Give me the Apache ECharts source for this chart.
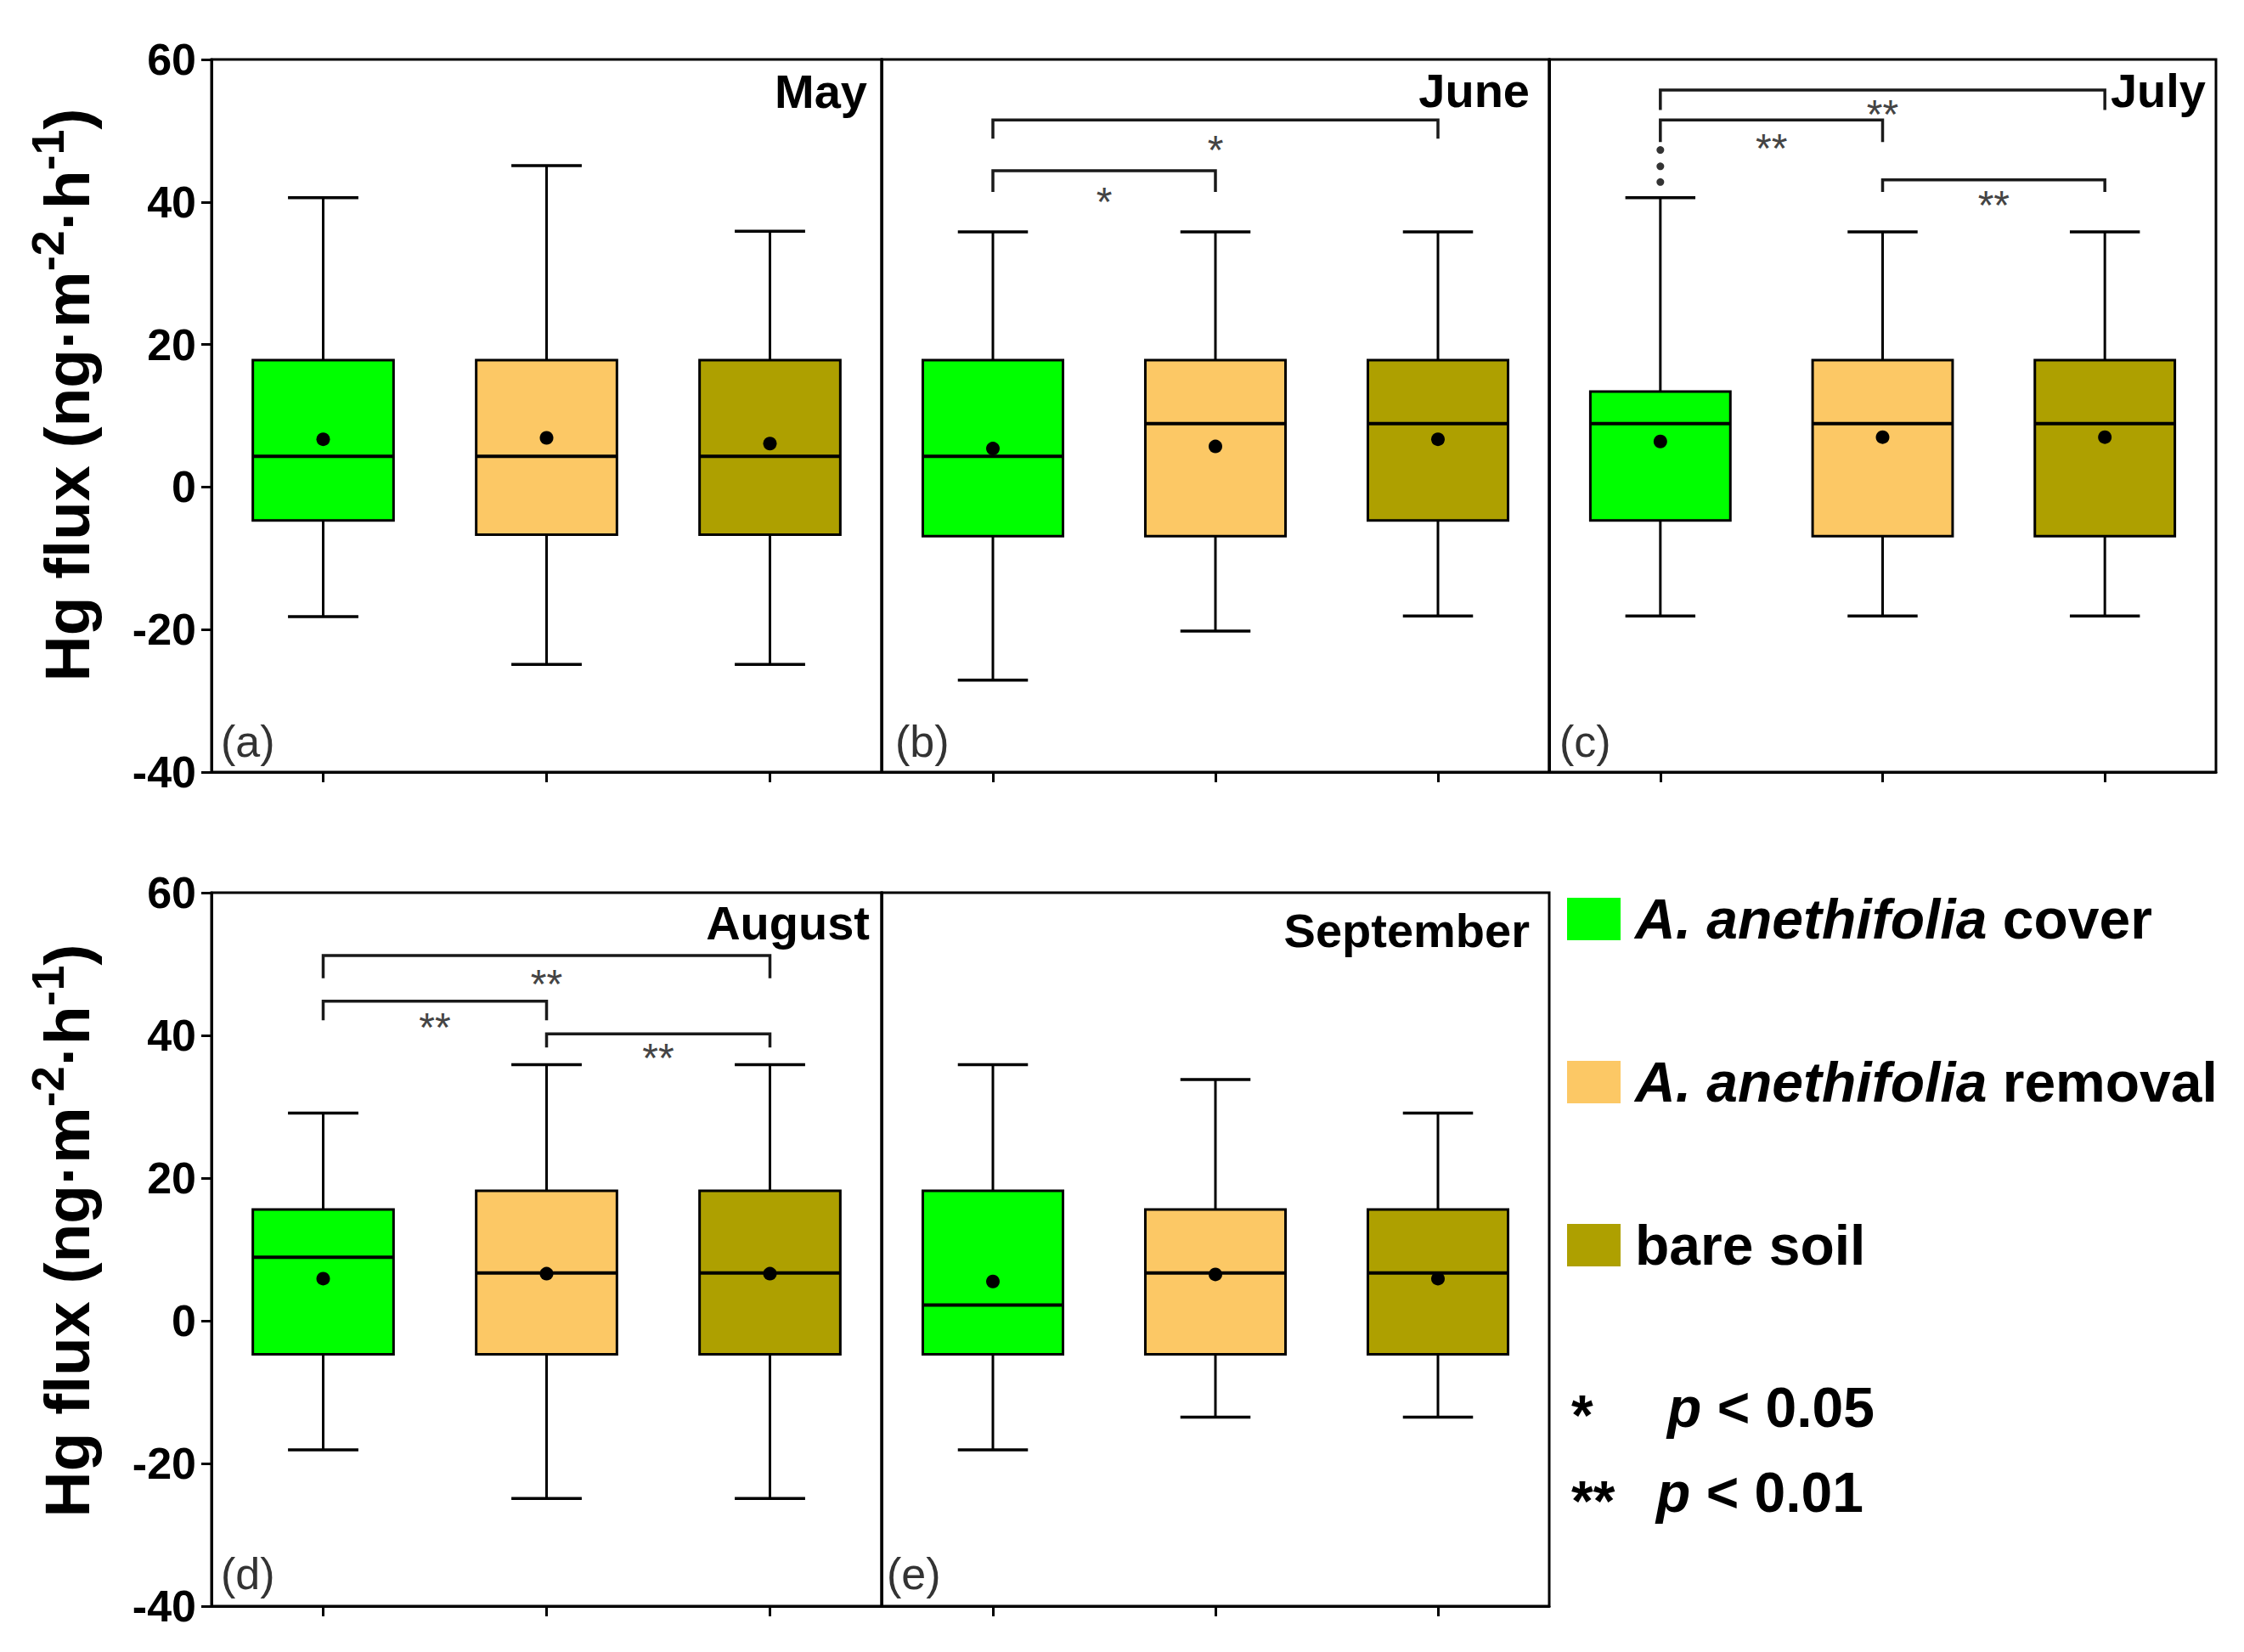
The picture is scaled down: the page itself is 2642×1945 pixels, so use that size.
<!DOCTYPE html>
<html><head><meta charset="utf-8">
<script src="https://cdn.jsdelivr.net/npm/echarts@6/dist/echarts.min.js"></script>
<style>html,body{margin:0;padding:0;background:#fff}#c{width:2642px;height:1945px}</style>
</head><body><div id="c"></div>
<script>
// ---------- data ----------
const groups = ['A. anethifolia cover', 'A. anethifolia removal', 'bare soil'];
const groupColors = ['#00FF00', '#FCC865', '#AEA000'];
const months = ['May', 'June', 'July', 'August', 'September'];
const panelLetters = ['(a)', '(b)', '(c)', '(d)', '(e)'];
const yMin = -40, yMax = 60, yInterval = 20;

// per group: [lower whisker, Q1, median, Q3, upper whisker]
const mayStats = [[-18.2, -4.7, 4.3, 17.8, 40.6], [-24.9, -6.7, 4.3, 17.8, 45.1], [-24.9, -6.7, 4.3, 17.8, 35.9]];
const mayMeans = [6.7, 6.9, 6.1];
const juneStats = [[-27.1, -6.9, 4.3, 17.8, 35.8], [-20.2, -6.9, 8.9, 17.8, 35.8], [-18.1, -4.7, 8.9, 17.8, 35.8]];
const juneMeans = [5.4, 5.7, 6.7];
const julyStats = [[-18.1, -4.7, 8.9, 13.4, 40.6], [-18.1, -6.9, 8.9, 17.8, 35.8], [-18.1, -6.9, 8.9, 17.8, 35.8]];
const julyMeans = [6.4, 7.0, 7.0];
const julyCoverOutliers = [42.8, 45.0, 47.3];
const augustStats = [[-18.1, -4.7, 8.9, 15.6, 29.1], [-24.9, -4.7, 6.7, 18.2, 35.9], [-24.9, -4.7, 6.7, 18.2, 35.9]];
const augustMeans = [5.9, 6.6, 6.6];
const septemberStats = [[-18.1, -4.7, 2.2, 18.2, 35.9], [-13.5, -4.7, 6.7, 15.6, 33.8], [-13.5, -4.7, 6.7, 15.6, 29.1]];
const septemberMeans = [5.5, 6.5, 5.9];

// significance brackets: [from group, to group, bar y, leg end y, label, label y]
const mayBrackets = [];
const juneBrackets = [[0, 2, 51.5, 48.9, '*', 48.6], [0, 1, 44.4, 41.4, '*', 41.4]];
const julyBrackets = [[0, 2, 55.7, 52.9, '**', 53.6], [0, 1, 51.5, 48.4, '**', 48.9], [1, 2, 43.1, 41.4, '**', 40.9]];
const augustBrackets = [[0, 2, 51.2, 48.0, '**', 48.5], [0, 1, 44.8, 42.1, '**', 42.5], [1, 2, 40.2, 38.3, '**', 38.2]];
const septemberBrackets = [];

// ---------- layout ----------
const FONT = "'Liberation Sans', Arial, Helvetica, sans-serif";
const allStats = [mayStats, juneStats, julyStats, augustStats, septemberStats];
const allMeans = [mayMeans, juneMeans, julyMeans, augustMeans, septemberMeans];
const allBrackets = [mayBrackets, juneBrackets, julyBrackets, augustBrackets, septemberBrackets];
const panelRects = [[249, 70, 789, 839], [1038, 70, 786, 839], [1824, 70, 785, 839], [249, 1051, 789, 840], [1038, 1051, 786, 840]];
const hasYAxis = [true, false, false, true, false];

function renderBox(params, api) {
  const x = api.value(0);
  const lo = api.value(1), q1 = api.value(2), med = api.value(3), q3 = api.value(4), hi = api.value(5), mean = api.value(6);
  const band = api.size([1, 0])[0];
  const bw = band * 0.63, cw = bw / 2;
  const cx = api.coord([x, med])[0];
  const Y = v => api.coord([x, v])[1];
  const color = api.visual('color');
  const ls = { stroke: '#000', lineWidth: 3 };
  return {
    type: 'group',
    children: [
      { type: 'line', shape: { x1: cx, y1: Y(q3), x2: cx, y2: Y(hi) }, style: ls },
      { type: 'line', shape: { x1: cx, y1: Y(q1), x2: cx, y2: Y(lo) }, style: ls },
      { type: 'line', shape: { x1: cx - cw / 2, y1: Y(hi), x2: cx + cw / 2, y2: Y(hi) }, style: { stroke: '#000', lineWidth: 3.5 } },
      { type: 'line', shape: { x1: cx - cw / 2, y1: Y(lo), x2: cx + cw / 2, y2: Y(lo) }, style: { stroke: '#000', lineWidth: 3.5 } },
      { type: 'rect', shape: { x: cx - bw / 2, y: Y(q3), width: bw, height: Y(q1) - Y(q3) }, style: { fill: color, stroke: '#000', lineWidth: 3 } },
      { type: 'line', shape: { x1: cx - bw / 2, y1: Y(med), x2: cx + bw / 2, y2: Y(med) }, style: { stroke: '#000', lineWidth: 4 } },
      { type: 'circle', shape: { cx: cx, cy: Y(mean), r: 8 }, style: { fill: '#000' } }
    ]
  };
}

function makeBracketRenderer(list) {
  return function (params, api) {
    const b = list[params.dataIndex];
    const x1 = api.coord([api.value(0), api.value(2)])[0];
    const x2 = api.coord([api.value(1), api.value(2)])[0];
    const yb = api.coord([api.value(0), api.value(2)])[1];
    const yl = api.coord([api.value(0), api.value(3)])[1];
    const yt = api.coord([api.value(0), api.value(4)])[1];
    return {
      type: 'group',
      children: [
        { type: 'polyline', shape: { points: [[x1, yl], [x1, yb], [x2, yb], [x2, yl]] }, style: { stroke: '#1a1a1a', lineWidth: 3.5, fill: 'none' } },
        { type: 'text', style: { text: b[4], x: (x1 + x2) / 2, y: yt + 11, align: 'center', verticalAlign: 'middle', fontSize: 48, fontFamily: FONT, fill: '#444' } }
      ]
    };
  };
}

const grids = [], xAxes = [], yAxes = [], series = [];
panelRects.forEach((r, p) => {
  grids.push({ left: r[0], top: r[1], width: r[2], height: r[3], show: true, borderColor: '#000', borderWidth: 3, backgroundColor: 'transparent' });
  xAxes.push({
    type: 'category', gridIndex: p, data: groups, boundaryGap: true, position: 'bottom',
    axisLine: { show: true, onZero: false, lineStyle: { color: '#000', width: 3 } },
    axisTick: { show: true, alignWithLabel: true, interval: 0, length: 12, lineStyle: { color: '#000', width: 3 } },
    axisLabel: { show: false, interval: 0 }, splitLine: { show: false }
  });
  yAxes.push({
    type: 'value', gridIndex: p, min: yMin, max: yMax, interval: yInterval, position: 'left',
    splitLine: { show: false },
    axisLine: { show: true, onZero: false, lineStyle: { color: '#000', width: 3 } },
    axisTick: { show: hasYAxis[p], length: 12, lineStyle: { color: '#000', width: 3 } },
    axisLabel: { show: hasYAxis[p], fontSize: 52, fontWeight: 'bold', color: '#000', fontFamily: FONT, margin: 18 }
  });
  groups.forEach((g, gi) => {
    series.push({
      type: 'custom', name: g, xAxisIndex: p, yAxisIndex: p, z: 3,
      itemStyle: { color: groupColors[gi] },
      encode: { x: 0, y: [1, 2, 3, 4, 5, 6] },
      data: [[gi].concat(allStats[p][gi], [allMeans[p][gi]])],
      renderItem: renderBox, silent: true
    });
  });
  const br = allBrackets[p];
  if (br.length) {
    series.push({
      type: 'custom', name: 'brackets' + p, xAxisIndex: p, yAxisIndex: p, z: 4,
      encode: { x: [0, 1], y: [2, 3, 4] },
      data: br.map(b => [b[0], b[1], b[2], b[3], b[5]]),
      renderItem: makeBracketRenderer(br), silent: true
    });
  }
});
series.push({
  type: 'scatter', name: 'outliers', xAxisIndex: 2, yAxisIndex: 2, z: 5,
  symbolSize: 9, itemStyle: { color: '#000' },
  data: julyCoverOutliers.map(v => [0, v]), silent: true
});

const titlePos = [[1021, 107], [1801, 106], [2597, 106], [1024, 1086], [1801, 1095]];
const letterPos = [[260, 873], [1054, 873], [1836, 873], [260, 1853], [1044, 1853]];
const graphics = [];
months.forEach((m, i) => {
  graphics.push({ type: 'text', x: titlePos[i][0], y: titlePos[i][1], z: 10,
    style: { text: m, fontSize: 56, fontWeight: 'bold', fontFamily: FONT, fill: '#000', align: 'right', verticalAlign: 'middle' } });
  graphics.push({ type: 'text', x: letterPos[i][0], y: letterPos[i][1], z: 10,
    style: { text: panelLetters[i], fontSize: 52, fontFamily: FONT, fill: '#333', align: 'left', verticalAlign: 'middle' } });
});
[[79, 465], [79, 1449]].forEach(pos => {
  graphics.push({ type: 'text', x: pos[0], y: pos[1], rotation: Math.PI / 2, z: 10,
    style: { text: 'Hg flux (ng·m{sup|-2}·h{sup|-1})', fontSize: 75, fontWeight: 'bold', fontFamily: FONT, fill: '#000', lineHeight: 100,
      align: 'center', verticalAlign: 'middle',
      rich: { sup: { fontSize: 54, fontWeight: 'bold', fontFamily: FONT, fill: '#000', lineHeight: 54, verticalAlign: 'top' } } } });
});
graphics.push({ type: 'text', x: 1850, y: 1666, style: { text: '*', fontSize: 66, fontWeight: 'bold', fontFamily: FONT, fill: '#000', align: 'left', verticalAlign: 'middle' } });
graphics.push({ type: 'text', x: 1963, y: 1657, style: { text: '{i|p} < 0.05', fontSize: 66, fontWeight: 'bold', fontFamily: FONT, fill: '#000', align: 'left', verticalAlign: 'middle',
  rich: { i: { fontSize: 66, fontWeight: 'bold', fontStyle: 'italic', fontFamily: FONT, fill: '#000' } } } });
graphics.push({ type: 'text', x: 1850, y: 1767, style: { text: '**', fontSize: 66, fontWeight: 'bold', fontFamily: FONT, fill: '#000', align: 'left', verticalAlign: 'middle' } });
graphics.push({ type: 'text', x: 1950, y: 1757, style: { text: '{i|p} < 0.01', fontSize: 66, fontWeight: 'bold', fontFamily: FONT, fill: '#000', align: 'left', verticalAlign: 'middle',
  rich: { i: { fontSize: 66, fontWeight: 'bold', fontStyle: 'italic', fontFamily: FONT, fill: '#000' } } } });

const chart = echarts.init(document.getElementById('c'), null, { renderer: 'svg' });
chart.setOption({
  backgroundColor: '#fff',
  animation: false,
  grid: grids, xAxis: xAxes, yAxis: yAxes, series: series,
  legend: {
    data: groups, orient: 'vertical', left: 1845, top: 1049, padding: 0,
    itemWidth: 63, itemHeight: 50, itemGap: 126, icon: 'rect', selectedMode: false,
    itemStyle: { borderWidth: 0 },
    formatter: name => name.indexOf('A. ') === 0 ? '{i|A. anethifolia} ' + name.slice(15) : name,
    textStyle: { fontSize: 66, fontWeight: 'bold', color: '#000', fontFamily: FONT, lineHeight: 66, padding: [0, 0, 0, 12],
      rich: { i: { fontSize: 66, fontWeight: 'bold', fontStyle: 'italic', color: '#000', fontFamily: FONT, lineHeight: 66 } } }
  },
  graphic: graphics
});
</script></body></html>
